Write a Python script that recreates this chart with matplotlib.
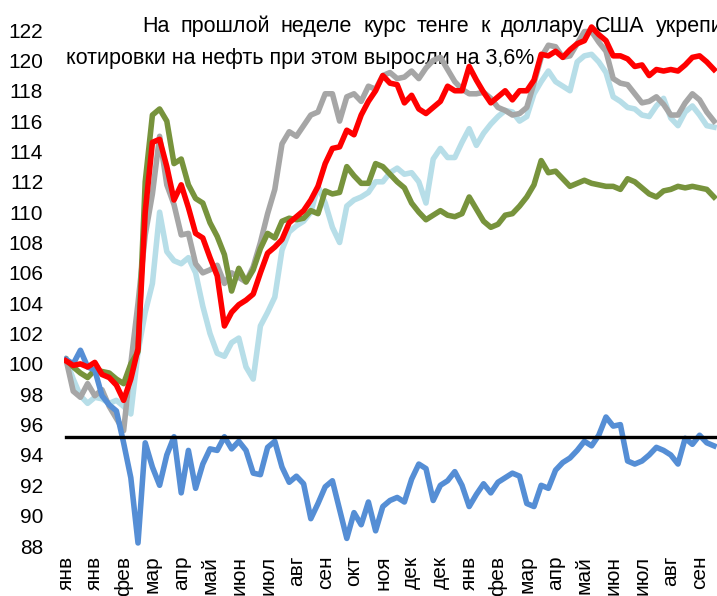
import numpy as np
import matplotlib
matplotlib.use("Agg")
import matplotlib.pyplot as plt

plt.rcParams['font.family'] = ['Liberation Sans Narrow', 'Liberation Sans', 'DejaVu Sans']

#%% Data (index ~ weekly points, 4 points per month label)
months = ['янв', 'янв', 'фев', 'мар', 'апр', 'май', 'июн', 'июл', 'авг', 'сен', 'окт', 'ноя',
          'дек', 'дек', 'янв', 'фев', 'мар', 'апр', 'май', 'июн', 'июл', 'авг', 'сен']

red = [100.2, 99.9, 100.0, 99.8, 100.1, 99.3, 99.1, 98.6, 97.6, 99.0,
       101.0, 110.0, 114.6, 114.8, 113.0, 110.8, 111.8, 110.3, 108.6, 108.3,
       107.0, 105.8, 102.5, 103.4, 103.9, 104.2, 104.6, 106.0, 107.3, 107.7,
       108.2, 109.3, 109.7, 110.1, 110.8, 111.7, 113.2, 114.2, 114.3, 115.4,
       115.1, 116.4, 117.3, 118.0, 119.0, 118.5, 118.4, 117.2, 117.7, 116.8,
       116.5, 116.9, 117.3, 118.3, 118.0, 118.0, 119.6, 118.7, 117.9, 117.2,
       117.6, 118.0, 117.4, 118.0, 118.0, 118.7, 120.4, 120.3, 120.6, 120.2,
       120.7, 121.1, 121.3, 122.2, 121.7, 121.3, 120.3, 120.3, 120.1, 119.6,
       119.7, 119.0, 119.4, 119.3, 119.4, 119.3, 119.7, 120.2, 120.3, 119.9,
       119.4]

gray = [100.3, 98.2, 97.8, 98.7, 97.9, 98.3, 97.2, 96.4, 95.6, 100.0,
        104.0, 108.5, 111.2, 115.0, 111.8, 110.5, 108.5, 108.6, 106.6, 106.0,
        106.2, 106.5, 105.3, 106.0, 105.7, 105.4, 106.4, 108.0, 109.9, 111.5,
        114.5, 115.3, 115.0, 115.7, 116.4, 116.6, 117.8, 117.8, 116.0, 117.6,
        117.8, 117.3, 118.3, 118.1, 119.0, 119.2, 118.8, 118.9, 119.3, 118.8,
        119.5, 120.0, 120.2, 119.4, 118.6, 118.1, 117.8, 117.8, 117.9, 117.5,
        116.9, 116.7, 116.4, 116.5, 116.9, 118.5, 120.2, 121.0, 120.9, 120.2,
        120.3, 121.1, 121.9, 121.9, 121.2, 120.6, 118.8, 118.5, 118.4, 117.8,
        117.2, 117.3, 117.6, 117.1, 116.4, 116.4, 117.2, 117.8, 117.4, 116.6,
        116.0]

light_blue = [100.3, 99.0, 97.9, 97.4, 97.8, 97.7, 97.4, 97.6, 97.2, 96.7,
              100.8, 103.4, 105.3, 110.0, 107.4, 106.8, 106.6, 107.0, 106.0, 103.8,
              102.0, 100.7, 100.5, 101.4, 101.7, 99.8, 99.0, 102.5, 103.4, 104.4,
              107.5, 108.7, 109.1, 109.4, 110.0, 111.7, 110.6, 109.0, 108.0, 110.4,
              110.8, 111.0, 111.3, 112.0, 112.0, 112.6, 112.9, 112.5, 112.6, 112.0,
              110.6, 113.5, 114.2, 113.6, 113.6, 114.6, 115.5, 114.4, 115.2, 115.8,
              116.3, 116.7, 116.6, 116.0, 116.3, 117.8, 118.6, 119.3, 118.6, 118.3,
              118.0, 119.9, 120.3, 120.4, 119.9, 119.2, 117.6, 117.3, 116.9, 116.8,
              116.4, 116.3, 117.0, 117.5, 116.2, 115.7, 116.6, 117.0, 116.4, 115.7,
              115.6]

green = [100.3, 99.8, 99.4, 99.1, 99.6, 99.5, 99.4, 99.0, 98.7, 100.0,
         100.8, 112.0, 116.4, 116.8, 116.0, 113.2, 113.5, 111.8, 110.9, 110.6,
         109.3, 108.4, 107.2, 104.8, 106.3, 105.4, 106.2, 107.6, 108.6, 108.3,
         109.4, 109.6, 109.5, 109.6, 110.1, 109.9, 111.4, 111.2, 111.3, 113.0,
         112.4, 111.9, 111.9, 113.2, 113.0, 112.5, 112.0, 111.6, 110.6, 110.0,
         109.5, 109.8, 110.1, 109.8, 109.7, 109.9, 111.0, 110.2, 109.4, 109.0,
         109.2, 109.8, 109.9, 110.4, 111.0, 111.8, 113.4, 112.6, 112.7, 112.2,
         111.7, 111.9, 112.1, 111.9, 111.8, 111.7, 111.7, 111.5, 112.2, 112.0,
         111.6, 111.2, 111.0, 111.4, 111.5, 111.7, 111.6, 111.7, 111.6, 111.5,
         111.0]

blue = [100.3, 100.0, 100.9, 99.8, 99.6, 97.9, 97.3, 96.9, 94.8, 92.5,
        88.2, 94.8, 93.2, 92.0, 94.0, 95.2, 91.5, 94.3, 91.8, 93.4,
        94.4, 94.3, 95.2, 94.4, 94.9, 94.3, 92.8, 92.7, 94.5, 94.9,
        93.2, 92.2, 92.6, 92.1, 89.8, 90.8, 91.9, 92.3, 90.4, 88.5,
        90.2, 89.4, 90.9, 89.0, 90.6, 91.0, 91.2, 90.9, 92.4, 93.4,
        93.1, 91.0, 92.0, 92.3, 92.9, 92.0, 90.6, 91.4, 92.1, 91.5,
        92.2, 92.5, 92.8, 92.6, 90.8, 90.6, 92.0, 91.8, 93.0, 93.5,
        93.8, 94.3, 94.9, 94.6, 95.3, 96.5, 95.9, 96.0, 93.6, 93.4,
        93.6, 94.0, 94.5, 94.3, 94.0, 93.4, 95.1, 94.7, 95.3, 94.8,
        94.6]

threshold = 95.2

line1_words = ['На', 'прошлой', 'неделе', 'курс', 'тенге', 'к', 'доллару', 'США', 'укрепился']
line2 = 'котировки на нефть при этом выросли на 3,6%'

x = np.arange(len(red))
tick_pos = np.arange(len(months)) * 4

#%% Plot
fig = plt.figure(figsize=(7.17, 5.96), dpi=100)
ax = fig.add_axes([64 / 717, 50 / 596, 653 / 717, 546 / 596])

# comment text sits under the lines, like in the original slide.
# first line is justified: words from x=142 px, "США" ending near 645 px
renderer = fig.canvas.get_renderer()
texts = []
for w in line1_words:
    t = ax.text(0, (596 - 32) / 596, w, transform=fig.transFigure, fontsize=15.5,
                va='baseline', ha='left', zorder=1, clip_on=False)
    texts.append(t)
widths = [t.get_window_extent(renderer).width for t in texts]
gap = (645 - 142 - sum(widths[:8])) / 7
pos = 142
for t, wd in zip(texts, widths):
    t.set_x(pos / 717)
    pos += wd + gap

ax.text(66 / 717, (596 - 64) / 596, line2, transform=fig.transFigure,
        fontsize=15.5, va='baseline', ha='left', zorder=1, clip_on=False)

lw = 4.0
ax.plot(x, light_blue, color='#B7DEE8', lw=lw, zorder=2)
ax.plot(x, gray, color='#A6A6A6', lw=lw, zorder=2)
ax.plot(x, green, color='#77933C', lw=lw, zorder=2)
ax.plot(x, blue, color='#558ED5', lw=lw, zorder=2)
ax.plot(x, red, color='#FF0000', lw=lw, zorder=2)
ax.axhline(threshold, color='black', lw=2.4, xmin=0.003, xmax=1, zorder=2)

ax.set_xlim(-0.28, 90.42)
ax.set_ylim(88, 123.98)
ax.set_yticks(np.arange(88, 123, 2))
ax.set_xticks(tick_pos)
ax.set_xticklabels(months, rotation=90, va='top', ha='center')
ax.tick_params(axis='y', length=0, pad=15, labelsize=15)
ax.tick_params(axis='x', length=0, pad=7, labelsize=15)
for s in ax.spines.values():
    s.set_visible(False)

fig.savefig('out.png', dpi=100)
